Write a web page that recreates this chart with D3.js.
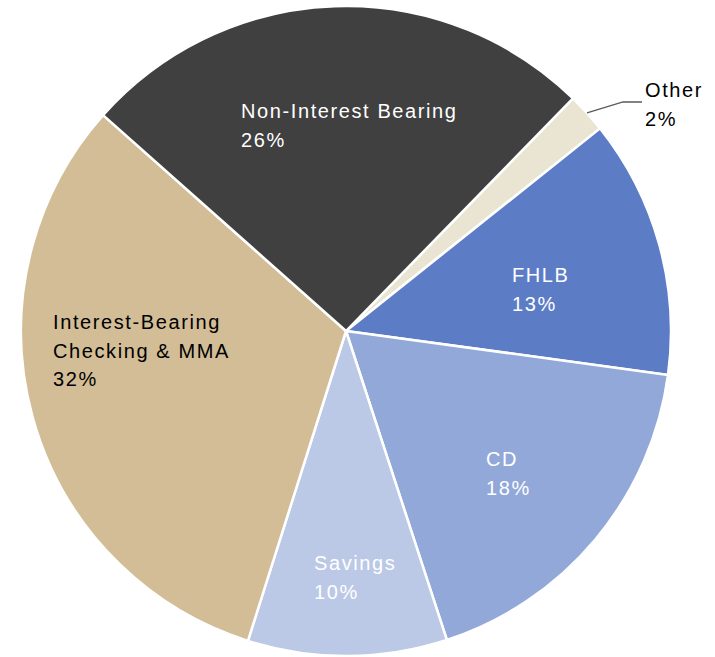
<!DOCTYPE html>
<html>
<head>
<meta charset="utf-8">
<script src="https://cdn.jsdelivr.net/npm/d3@7"></script>
<style>
  html, body { margin: 0; padding: 0; background: #fff; }
  svg { display: block; }
  text { font-family: "Liberation Sans", Arial, sans-serif; font-size: 20px; letter-spacing: 1.6px; }
</style>
</head>
<body>
<svg id="chart" width="715" height="657"></svg>
<script>
// Deposit mix, percent of total (clockwise from the Other slice)
const categories = ["Other", "FHLB", "CD", "Savings", "Interest-Bearing Checking & MMA", "Non-Interest Bearing"];
const values = [2, 13, 18, 10, 32, 26];
const labelLines = [
  ["Other", "2%"],
  ["FHLB", "13%"],
  ["CD", "18%"],
  ["Savings", "10%"],
  ["Interest-Bearing", "Checking & MMA", "32%"],
  ["Non-Interest Bearing", "26%"]
];

const colors = ["#EAE5D3", "#5C7DC6", "#92A8D9", "#BBC9E7", "#D2BD96", "#404040"];
const textColors = ["#000", "#fff", "#fff", "#fff", "#000", "#fff"];

const width = 715, height = 657;
const cx = 346, cy = 331, radius = 325;
const startAngle = 44.3 * Math.PI / 180;
const lineGap = 28.7;

// label block placement: left edge and first baseline
const labelPos = [
  [645, 97], [512, 282], [486, 466], [314, 570], [53, 329], [241, 118]
];

const svg = d3.select("#chart");
const g = svg.append("g").attr("transform", `translate(${cx},${cy})`);

const pie = d3.pie().sort(null).value(d => d.value)
  .startAngle(startAngle).endAngle(startAngle + 2 * Math.PI);
const arc = d3.arc().innerRadius(0).outerRadius(radius);

const data = categories.map((c, i) => ({ name: c, value: values[i], i }));
const arcs = pie(data);

g.selectAll("path.slice")
  .data(arcs)
  .join("path")
  .attr("class", "slice")
  .attr("d", arc)
  .attr("fill", d => colors[d.data.i])
  .attr("stroke", "#fff")
  .attr("stroke-width", 2.5)
  .attr("stroke-linejoin", "round");

// leader line for the small Other slice
const other = arcs[0];
const mid = (other.startAngle + other.endAngle) / 2;
const p0 = [cx + Math.sin(mid) * radius, cy - Math.cos(mid) * radius];
const elbow = [623, 102];
const end = [642, 102];
svg.append("polyline")
  .attr("points", [p0, elbow, end].map(p => p.join(",")).join(" "))
  .attr("fill", "none")
  .attr("stroke", "#595959")
  .attr("stroke-width", 1.3);

// data labels
const labels = svg.selectAll("text.lbl")
  .data(arcs)
  .join("text")
  .attr("class", "lbl")
  .attr("fill", d => textColors[d.data.i]);

labels.each(function(d) {
  const [x, y] = labelPos[d.data.i];
  d3.select(this).selectAll("tspan")
    .data(labelLines[d.data.i])
    .join("tspan")
    .attr("x", x)
    .attr("y", (t, j) => y + j * lineGap)
    .text(t => t);
});
</script>
</body>
</html>
